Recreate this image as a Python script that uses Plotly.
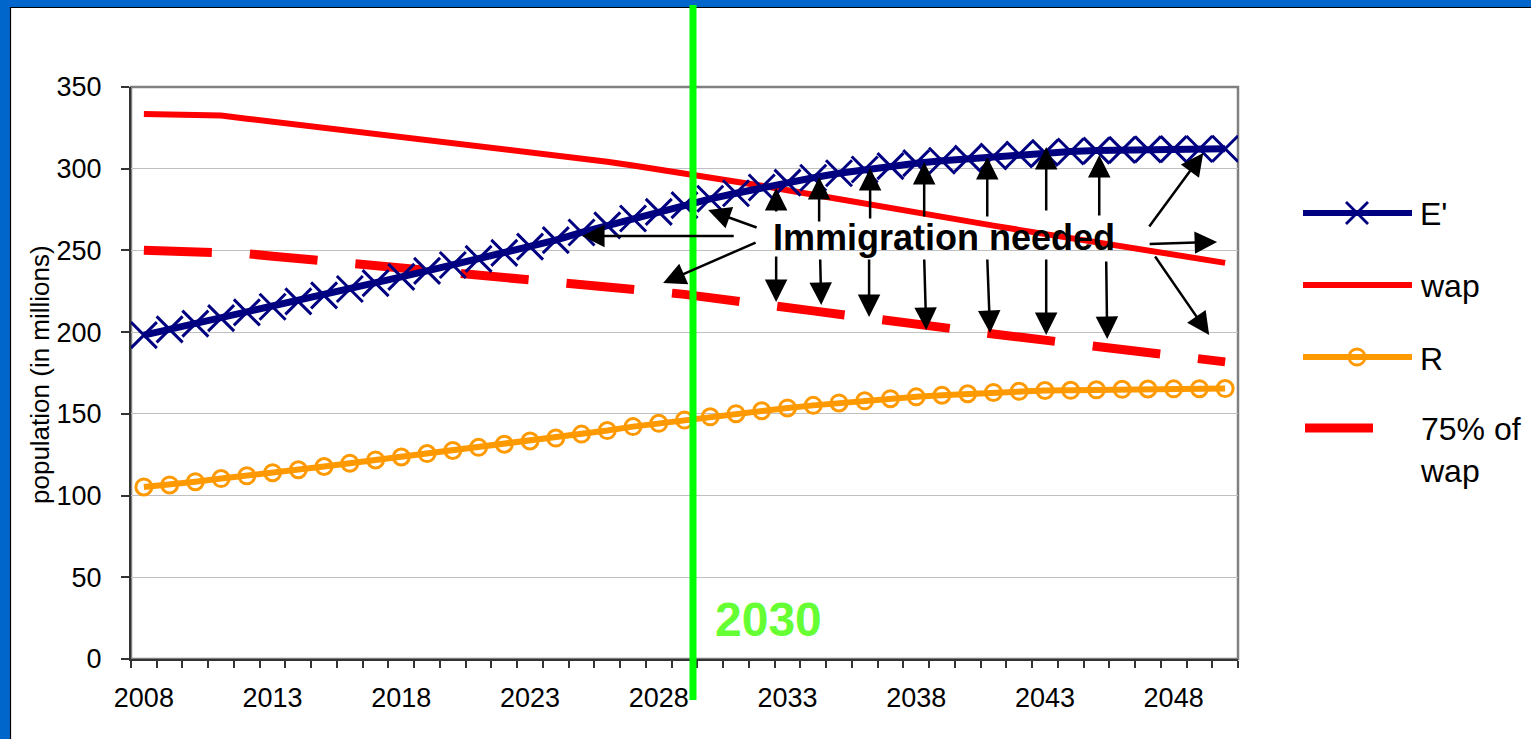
import plotly.graph_objects as go

W, H = 1531, 739
FONT = "Liberation Sans, Arial, sans-serif"

# ---- data (millions) ----
years = list(range(2008, 2051))

e_prime = [198.2, 201.7, 205.2, 208.6, 212.1, 215.5, 218.8, 222.5, 226.4, 230.0,
           233.8, 237.5, 241.1, 244.8, 248.5, 252.3, 256.3, 261.0, 265.3, 269.5,
           273.6, 277.7, 281.6, 285.0, 288.5, 291.5, 294.5, 297.2, 299.5, 301.6,
           303.4, 304.9, 306.2, 307.5, 308.7, 309.7, 310.5, 311.1, 311.5, 311.8,
           312.0, 312.1, 312.2]

wap = [333.5, 333.2, 332.9, 332.5, 330.6, 328.7, 326.8, 325.0, 323.2, 321.4,
       319.6, 317.8, 316.0, 314.2, 312.5, 310.6, 308.6, 306.5, 304.3, 302.0,
       299.6, 297.5, 295.0, 292.3, 289.6, 286.8, 284.0, 281.2, 278.3, 275.6,
       273.0, 270.4, 267.8, 265.2, 262.6, 260.1, 257.6, 255.1, 252.6, 250.1,
       247.6, 245.0, 242.4]

r_vals = [105.3, 106.5, 108.5, 110.4, 112.1, 114.0, 115.8, 117.8, 119.8, 121.8,
          123.6, 125.7, 127.6, 129.5, 131.4, 133.4, 135.2, 137.6, 139.8, 142.2,
          144.2, 146.2, 148.2, 150.1, 151.9, 153.6, 155.2, 156.7, 158.0, 159.3,
          160.4, 161.4, 162.3, 163.1, 163.8, 164.3, 164.4, 164.7, 165.0, 165.2,
          165.3, 165.4, 165.5]

wap_75 = [250.1, 249.9, 249.7, 249.4, 248.0, 246.5, 245.1, 243.8, 242.4, 241.1,
          239.7, 238.4, 237.0, 235.7, 234.4, 233.0, 231.5, 229.9, 228.2, 226.5,
          224.7, 223.1, 221.3, 219.2, 217.2, 215.1, 213.0, 210.9, 208.7, 206.7,
          204.8, 202.8, 200.9, 198.9, 197.0, 195.1, 193.2, 191.3, 189.5, 187.6,
          185.7, 183.8, 181.8]

tick_years = years[::5]
tick_labels = [str(y) for y in tick_years]
y_ticks = list(range(0, 351, 50))

# year at which the 2030 marker line is drawn
marker_year = 2029.33

# "Immigration needed" arrows: (tail_year, tail_value, head_year, head_value)
arrows = [
    (2030.97, 258.8, 2025.02, 258.8),
    (2031.86, 263.7, 2029.92, 274.7),
    (2031.82, 255.2, 2028.17, 230.1),
    (2032.56, 272.9, 2032.56, 288.2),
    (2032.56, 247.2, 2032.56, 218.4),
    (2034.23, 266.8, 2034.23, 294.9),
    (2034.27, 245.4, 2034.31, 216.6),
    (2036.21, 268.6, 2036.21, 300.4),
    (2036.17, 245.4, 2036.17, 209.3),
    (2038.31, 269.8, 2038.31, 304.1),
    (2038.31, 245.4, 2038.39, 201.3),
    (2040.76, 269.8, 2040.76, 307.2),
    (2040.76, 245.4, 2040.87, 199.5),
    (2043.05, 273.5, 2043.05, 313.3),
    (2043.05, 245.4, 2043.05, 198.3),
    (2045.11, 270.5, 2045.11, 308.4),
    (2045.38, 244.1, 2045.42, 195.8),
    (2047.01, 263.7, 2049.15, 309.6),
    (2047.01, 253.9, 2049.69, 255.2),
    (2047.24, 247.2, 2049.38, 198.3),
]

NAVY = "#000080"
RED = "#FF0000"
ORANGE = "#FF9900"
GREEN_LINE = "#00FF00"
GREEN_TEXT = "#66FF33"
FRAME_BLUE = "#0066CC"


def fx(px):
    return px / W


def fy(py):
    return 1 - py / H


fig = go.Figure()

fig.add_trace(go.Scatter(
    x=years, y=wap_75, mode="lines", name="75% of wap",
    line=dict(color=RED, width=9, dash="68px,38px"),
))
fig.add_trace(go.Scatter(
    x=years, y=r_vals, mode="lines+markers", name="R",
    line=dict(color=ORANGE, width=6),
    marker=dict(symbol="circle-open", size=16, color=ORANGE,
                line=dict(color=ORANGE, width=3)),
))
fig.add_trace(go.Scatter(
    x=years, y=wap, mode="lines", name="wap",
    line=dict(color=RED, width=6),
))
fig.add_trace(go.Scatter(
    x=years, y=e_prime, mode="lines+markers", name="E'",
    line=dict(color=NAVY, width=7),
    marker=dict(symbol="x-thin", size=26, color=NAVY,
                line=dict(color=NAVY, width=3)),
))

shapes = []
# plot area frame
shapes.append(dict(type="rect", xref="paper", yref="paper",
                   x0=fx(131), x1=fx(1238), y0=fy(659), y1=fy(87),
                   line=dict(color="#808080", width=2.5), layer="below"))
# slide frame: blue bands on left and top
shapes.append(dict(type="rect", xref="paper", yref="paper",
                   x0=0, x1=fx(10), y0=0, y1=1,
                   fillcolor=FRAME_BLUE, line=dict(width=0)))
shapes.append(dict(type="rect", xref="paper", yref="paper",
                   x0=0, x1=1, y0=fy(7), y1=1,
                   fillcolor=FRAME_BLUE, line=dict(width=0)))
shapes.append(dict(type="line", xref="paper", yref="paper",
                   x0=fx(10.5), x1=fx(10.5), y0=0, y1=fy(7),
                   line=dict(color="#000000", width=1.2)))
shapes.append(dict(type="line", xref="paper", yref="paper",
                   x0=fx(10.5), x1=1, y0=fy(7.5), y1=fy(7.5),
                   line=dict(color="#000000", width=1.2)))
# 2030 marker line
shapes.append(dict(type="line", xref="x", yref="paper",
                   x0=marker_year, x1=marker_year, y0=fy(700), y1=fy(5),
                   line=dict(color=GREEN_LINE, width=7), layer="above"))

# legend keys
leg_x0, leg_x1, leg_mid = 1303, 1412, 1357
shapes.append(dict(type="line", xref="paper", yref="paper",
                   x0=fx(leg_x0), x1=fx(leg_x1), y0=fy(213), y1=fy(213),
                   line=dict(color=NAVY, width=6)))
for dx, dy in [(1, 1), (1, -1)]:
    shapes.append(dict(type="line", xref="paper", yref="paper",
                       x0=fx(leg_mid - 11 * dx), x1=fx(leg_mid + 11 * dx),
                       y0=fy(213 - 11 * dy), y1=fy(213 + 11 * dy),
                       line=dict(color=NAVY, width=2.8)))
shapes.append(dict(type="line", xref="paper", yref="paper",
                   x0=fx(leg_x0), x1=fx(leg_x1), y0=fy(285), y1=fy(285),
                   line=dict(color=RED, width=6)))
shapes.append(dict(type="line", xref="paper", yref="paper",
                   x0=fx(leg_x0), x1=fx(leg_x1), y0=fy(357), y1=fy(357),
                   line=dict(color=ORANGE, width=6)))
shapes.append(dict(type="circle", xref="paper", yref="paper",
                   x0=fx(leg_mid - 8), x1=fx(leg_mid + 8),
                   y0=fy(357 + 8), y1=fy(357 - 8),
                   fillcolor="rgba(0,0,0,0)", line=dict(color=ORANGE, width=2.8)))
shapes.append(dict(type="line", xref="paper", yref="paper",
                   x0=fx(1305), x1=fx(1373), y0=fy(428), y1=fy(428),
                   line=dict(color=RED, width=9)))

annotations = []
for tx, ty, hx, hy in arrows:
    annotations.append(dict(
        x=hx, y=hy, ax=tx, ay=ty, xref="x", yref="y", axref="x", ayref="y",
        text="", showarrow=True, arrowhead=2, arrowsize=1.8, arrowwidth=2.5,
        arrowcolor="#000000", standoff=0, startstandoff=0,
    ))
annotations.append(dict(
    x=2039.08, y=257.8, xref="x", yref="y", text="<b>Immigration needed</b>",
    showarrow=False, xanchor="center", yanchor="middle",
    font=dict(family=FONT, size=36, color="#000000"),
))
annotations.append(dict(
    x=2032.25, y=24.0, xref="x", yref="y", text="<b>2030</b>",
    showarrow=False, xanchor="center", yanchor="middle",
    font=dict(family=FONT, size=48, color=GREEN_TEXT),
))
# y axis title
annotations.append(dict(
    x=fx(40), y=fy(375), xref="paper", yref="paper",
    text="population (in millions)", textangle=-90, showarrow=False,
    xanchor="center", yanchor="middle",
    font=dict(family=FONT, size=26, color="#000000"),
))
# legend labels
for label, py in [("E'", 214), ("wap", 286), ("R", 359), ("75% of<br>wap", 450)]:
    annotations.append(dict(
        x=fx(1418), y=fy(py), xref="paper", yref="paper", text=label,
        showarrow=False, xanchor="left", yanchor="middle", align="left",
        font=dict(family=FONT, size=32, color="#000000"),
    ))

fig.update_layout(
    width=W, height=H,
    margin=dict(l=0, r=0, t=0, b=0),
    paper_bgcolor="#FFFFFF", plot_bgcolor="#FFFFFF",
    showlegend=False,
    font=dict(family=FONT, size=27, color="#000000"),
    shapes=shapes, annotations=annotations,
    xaxis=dict(
        domain=[fx(131), fx(1238)], range=[2007.5, 2050.5],
        tickmode="array", tickvals=tick_years, ticktext=tick_labels,
        ticks="", showgrid=False, zeroline=False,
        showline=True, linecolor="#333333", linewidth=2,
        ticklabelstandoff=14, automargin=False,
        minor=dict(ticks="outside", ticklen=7, tickwidth=1.5,
                   tickcolor="#333333", tick0=2007.5, dtick=1, showgrid=False),
        tickfont=dict(family=FONT, size=27, color="#000000"),
    ),
    yaxis=dict(
        domain=[fy(659), fy(87)], range=[0, 350],
        tickmode="array", tickvals=y_ticks,
        ticks="outside", ticklen=8, tickwidth=1.5, tickcolor="#333333",
        showgrid=True, gridcolor="#C0C0C0", gridwidth=1,
        zeroline=False, showline=True, linecolor="#333333", linewidth=2,
        ticklabelstandoff=14, automargin=False,
        tickfont=dict(family=FONT, size=27, color="#000000"),
    ),
)

fig.write_html("out.html")
